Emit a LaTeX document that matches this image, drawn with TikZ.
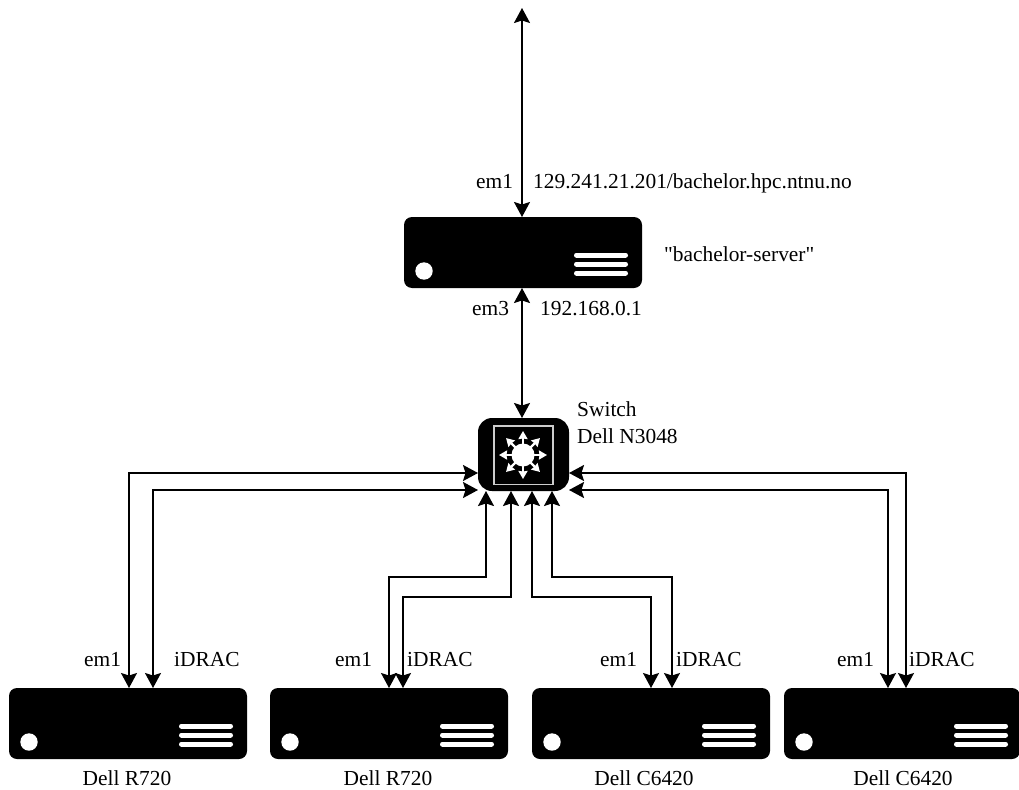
\documentclass[tikz,border=0pt]{standalone}
\usepackage{fontspec}
\setmainfont{Liberation Serif}
\newfontfamily\plainserif[Ligatures=NoCommon]{Liberation Serif}
\usetikzlibrary{arrows.meta,calc}
\tikzset{
  x=1pt,y=-1pt,
  dlink/.style={line width=1.5pt,black,{Stealth[length=15pt,width=16pt,inset=2.5pt]}-{Stealth[length=15pt,width=16pt,inset=2.5pt]}},
  serverbox/.style={fill=black,draw=none,rounded corners=8pt,inner sep=0pt,outer sep=0pt,minimum height=71pt},
  slot/.style={white,line width=5pt,line cap=round},
  lbl/.style={font=\fontsize{21.4}{24}\selectfont,inner sep=0pt,anchor=base west,text=black},
  clbl/.style={font=\fontsize{21.4}{24}\selectfont,inner sep=0pt,anchor=base,text=black},
}
% name, left x, top y, width
\newcommand{\serverat}[4]{%
  \node[serverbox,minimum width=#4pt] (#1) at (#2+#4/2,#3+35.5) {};
  \fill[white] (#2+20,#3+54) circle[radius=8.7];
  \foreach \yy in {38,47,56} {\draw[slot] (#2+170+2.5,#3+\yy) -- (#2+224-2.5,#3+\yy);}
}
\begin{document}
\begin{tikzpicture}
\useasboundingbox (0,0) rectangle (1019,789);
\clip (0,0) rectangle (1019,789);
\fill[white] (0,0) rectangle (1019,789);

\serverat{srv}{404}{217}{238}
\serverat{sa}{9}{688}{238}
\serverat{sb}{270}{688}{238}
\serverat{sc}{532}{688}{238}
\serverat{sd}{784}{688}{236}

% switch
\node[fill=black,rounded corners=14pt,inner sep=0pt,outer sep=0pt,minimum width=91pt,minimum height=73pt] (sw) at (523.5,454.5) {};
\draw[white!80!black,line width=1.5pt] (494,426) rectangle (553,484.5);
\fill[white] (523,455) circle[radius=11.5];
\foreach \a in {0,45,...,315} {
  \draw[white,line width=2.2pt,-{Stealth[length=8pt,width=9pt,inset=0.5pt]}] (523,455) -- ($(523,455)+(\a:24)$);
}

\coordinate (top) at (522,8);
\coordinate (srvN) at (522,217);
\coordinate (srvS) at (522,288);
\coordinate (swN) at (522,418);

\coordinate (swW1) at (478,473);
\coordinate (swW2) at (478,490);
\coordinate (swE1) at (569,473);
\coordinate (swE2) at (569,490);
\coordinate (swS1) at (486,491);
\coordinate (swS2) at (511,491);
\coordinate (swS3) at (532,491);
\coordinate (swS4) at (552,491);

\coordinate (aEm) at (129,688);
\coordinate (aId) at (153,688);
\coordinate (bEm) at (389,688);
\coordinate (bId) at (403,688);
\coordinate (cEm) at (651,688);
\coordinate (cId) at (672,688);
\coordinate (dEm) at (888,688);
\coordinate (dId) at (906,688);

\draw[dlink] (top) -- (srvN);
\draw[dlink] (srvS) -- (swN);

\draw[dlink] (aEm) |- (swW1);
\draw[dlink] (aId) |- (swW2);
\draw[dlink] (dId) |- (swE1);
\draw[dlink] (dEm) |- (swE2);
\draw[dlink] (bEm) -- ++(0,-111) -| (swS1);
\draw[dlink] (bId) -- ++(0,-91) -| (swS2);
\draw[dlink] (cEm) -- ++(0,-91) -| (swS3);
\draw[dlink] (cId) -- ++(0,-111) -| (swS4);

\node[lbl] (t1) at (476,188) {em1};
\node[lbl] (t2) at (533,188) {129.241.21.201/bachelor.hpc.ntnu.no};
\node[lbl] (t3) at (664,261) {\plainserif "bachelor-server"};
\node[lbl] (t4) at (472,315) {em3};
\node[lbl] (t5) at (540,315) {192.168.0.1};
\node[lbl] (t6) at (577,416) {Switch};
\node[lbl] (t7) at (577,443) {Dell N3048};
\node[lbl] (t8) at (84,666.5) {em1};
\node[lbl] (t9) at (174,666.5) {iDRAC};
\node[lbl] (t10) at (335,666.5) {em1};
\node[lbl] (t11) at (407,666.5) {iDRAC};
\node[lbl] (t12) at (600,666.5) {em1};
\node[lbl] (t13) at (676,666.5) {iDRAC};
\node[lbl] (t14) at (837,666.5) {em1};
\node[lbl] (t15) at (909,666.5) {iDRAC};
\node[clbl] (t16) at (127,785) {Dell R720};
\node[clbl] (t17) at (388,785) {Dell R720};
\node[clbl] (t18) at (644,785) {Dell C6420};
\node[clbl] (t19) at (903,785) {Dell C6420};
\end{tikzpicture}
\end{document}
